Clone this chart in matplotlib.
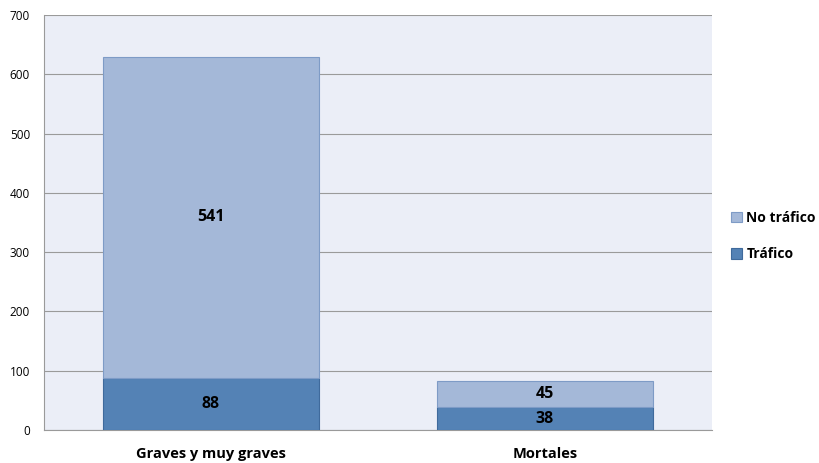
import numpy as np
import matplotlib
matplotlib.use('Agg')
import matplotlib.pyplot as plt

categories = ['Graves y muy graves', 'Mortales']
trafico = [88, 38]
no_trafico = [541, 45]
series_names = ['Tráfico', 'No tráfico']

c_traf = '#5482B5'
c_notraf = '#A4B8D8'
edge_traf = '#3F6A9C'
edge_notraf = '#7E9BC6'

plt.rcParams['font.family'] = ['Open Sans', 'DejaVu Sans']

fig = plt.figure(figsize=(8.19, 4.63), dpi=100)
ax = fig.add_axes([44/819, 33/463, 668/819, 415/463])
ax.set_facecolor('#EBEEF7')

x = np.arange(len(categories))
w = 0.645
b1 = ax.bar(x, trafico, w, color=c_traf, edgecolor=edge_traf, linewidth=0.8,
            label=series_names[0], zorder=3)
b2 = ax.bar(x, no_trafico, w, bottom=trafico, color=c_notraf, edgecolor=edge_notraf,
            linewidth=0.8, label=series_names[1], zorder=3)

for i in range(len(categories)):
    ax.text(x[i], trafico[i] / 2, str(trafico[i]), ha='center', va='center',
            fontsize=11.5, fontweight='bold', zorder=4)
    ax.text(x[i], trafico[i] + no_trafico[i] / 2, str(no_trafico[i]), ha='center',
            va='center', fontsize=11.5, fontweight='bold', zorder=4)

ax.set_xlim(-0.5, 1.5)
ax.set_ylim(0, 700)
ax.set_yticks(range(0, 701, 100))
ax.yaxis.grid(True, color='#9A9A9A', linewidth=0.8, zorder=0)
ax.set_axisbelow(True)
ax.set_xticks(x)
ax.set_xticklabels(categories, fontsize=10.5, fontweight='bold')
ax.tick_params(axis='x', length=0, pad=12)
ax.tick_params(axis='y', length=0, pad=10, labelsize=8.5)

for s in ['top', 'right']:
    ax.spines[s].set_visible(False)
ax.spines['left'].set_color('#9A9A9A')
ax.spines['bottom'].set_color('#9A9A9A')

handles = [b2, b1]
fig.legend(handles, [series_names[1], series_names[0]], loc='upper left',
           bbox_to_anchor=(731/819, 1 - 211/463), frameon=False,
           prop={'weight': 'bold', 'size': 10}, handlelength=0.8, handleheight=0.8,
           handletextpad=0.3, labelspacing=1.6, borderaxespad=0, borderpad=0)

fig.savefig('out.png', dpi=100)
